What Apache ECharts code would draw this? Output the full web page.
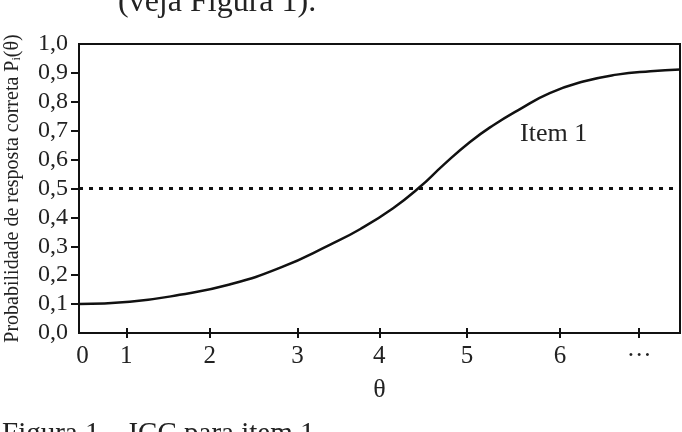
<!DOCTYPE html>
<html>
<head>
<meta charset="utf-8">
<script src="https://cdn.jsdelivr.net/npm/echarts@6/dist/echarts.min.js"></script>
<style>
  html, body { margin: 0; padding: 0; background: #fff; }
  #chart { width: 682px; height: 432px; }
</style>
</head>
<body>
<div id="chart"></div>
<script>
'use strict';
// theta positions as drawn (the scan's axis is hand-spaced)
var thetaVals = [0.47, 1.06, 1.64, 2.22, 2.81, 3.39, 3.74, 4.12, 4.43, 4.70,
		5.01, 5.28, 5.59, 5.94, 6.33, 6.72, 7.11, 7.454],
	probVals = [0.100, 0.108, 0.132, 0.168, 0.226, 0.306, 0.360, 0.432, 0.505, 0.580,
		0.660, 0.718, 0.774, 0.830, 0.870, 0.894, 0.906, 0.912],
	xTickVals = [1.02, 1.99, 3.01, 3.96, 4.98, 6.06, 6.98],
	xLabelVals = [0.51, 1.02, 1.99, 3.01, 3.96, 4.98, 6.06, 6.98],
	xLabels = ['0', '1', '2', '3', '4', '5', '6', '···'],
	yTickVals = [0.1, 0.2, 0.3, 0.4, 0.5, 0.6, 0.7, 0.8, 0.9],
	cutLevel = 0.5;

var serif = 'Liberation Serif',
	ink = '#111',
	txt = '#222';

var curve = thetaVals.map(function (t, i) {
	return [t, probVals[i]];
});

var chart = echarts.init(document.getElementById('chart'));

chart.setOption({
	animation: false,
	grid: {
		left: 79, right: 2, top: 44, bottom: 99,
		outerBoundsMode: 'none',
		show: true,
		borderColor: ink,
		borderWidth: 2
	},
	xAxis: [
		{
			type: 'value',
			min: 0.47,
			max: 7.454,
			position: 'bottom',
			axisLine: {lineStyle: {color: ink, width: 2}},
			axisTick: {
				customValues: xTickVals,
				length: 5,
				lineStyle: {color: ink, width: 2}
			},
			axisLabel: {
				customValues: xLabelVals,
				margin: 11,
				fontFamily: serif,
				fontSize: 25,
				color: txt,
				formatter: function (v) {
					var i = xLabelVals.indexOf(v);
					return i < 0 ? '' : xLabels[i];
				}
			},
			splitLine: {show: false},
			name: 'θ',
			nameLocation: 'middle',
			nameGap: 44,
			nameTextStyle: {fontFamily: serif, fontSize: 26, color: txt}
		},
		{
			// inner half of the crossing ticks
			type: 'value',
			min: 0.47,
			max: 7.454,
			position: 'bottom',
			axisLine: {show: false},
			axisTick: {
				inside: true,
				customValues: xTickVals,
				length: 5,
				lineStyle: {color: ink, width: 2}
			},
			axisLabel: {show: false},
			splitLine: {show: false}
		}
	],
	yAxis: {
		type: 'value',
		min: 0,
		max: 1,
		interval: 0.1,
		axisLine: {show: true, lineStyle: {color: ink, width: 2}},
		axisTick: {
			customValues: yTickVals,
			length: 8,
			lineStyle: {color: ink, width: 2}
		},
		axisLabel: {
			margin: 11,
			fontFamily: serif,
			fontSize: 24,
			color: txt,
			formatter: function (v) {
				return v.toFixed(1).replace('.', ',');
			}
		},
		splitLine: {show: false},
		name: 'Probabilidade de resposta correta P{sub|i}(θ)',
		nameLocation: 'middle',
		nameRotate: 90,
		nameGap: 56,
		nameTextStyle: {
			fontFamily: serif,
			fontSize: 20,
			color: txt,
			rich: {
				sub: {fontFamily: serif, fontSize: 12, color: txt, verticalAlign: 'bottom'}
			}
		}
	},
	series: [
		{
			type: 'line',
			data: curve,
			smooth: true,
			symbol: 'none',
			lineStyle: {color: ink, width: 2.5},
			markLine: {
				silent: true,
				symbol: 'none',
				label: {show: false},
				lineStyle: {color: ink, width: 3, type: [4, 6]},
				data: [{yAxis: cutLevel}]
			}
		}
	],
	graphic: [
		{
			type: 'text', left: 520, top: 121,
			style: {text: 'Item 1', font: '26px "Liberation Serif"', fill: txt}
		},
		{
			type: 'text', left: 118, top: -13,
			style: {text: '(veja Figura 1).', font: '32px "Liberation Serif"', fill: txt}
		},
		{
			type: 'text', left: 2, top: 420,
			style: {text: 'Figura 1 – ICC para item 1.', font: '29px "Liberation Serif"', fill: txt}
		}
	]
});
</script>
</body>
</html>
